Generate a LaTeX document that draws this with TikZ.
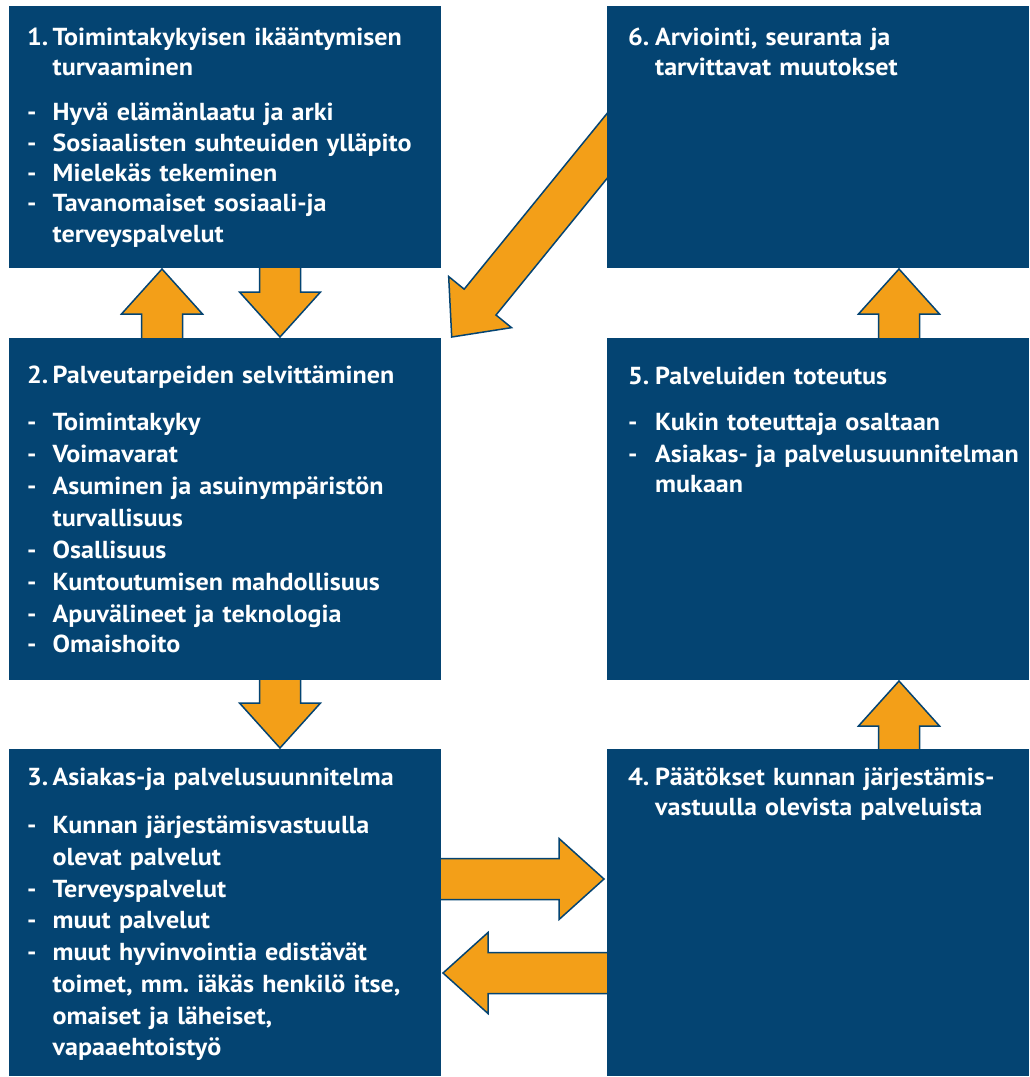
\documentclass[tikz,border=0pt]{standalone}
\usepackage{fontspec}
\setmainfont{PT Sans}[FakeStretch=1.06]
\usetikzlibrary{calc}
\definecolor{boxblue}{RGB}{4,68,114}
\definecolor{arrorange}{RGB}{243,159,24}
\newcommand\lbl[1]{\makebox[25.5pt][l]{#1}}
\newcommand\rlbl[1]{\makebox[27pt][l]{#1}}
\newcommand\firststrut{\rule{0pt}{22pt}}
\newcommand\blockarr[2]{%
  \coordinate (hb) at ($(#2)!45pt!(#1)$);
  \draw[blockarrow] ($(#1)!20.5pt!90:(#2)$) -- ($(hb)!20.5pt!-90:(#1)$)
    -- ($(hb)!40.5pt!-90:(#1)$) -- (#2) -- ($(hb)!40.5pt!90:(#1)$)
    -- ($(hb)!20.5pt!90:(#1)$) -- ($(#1)!20.5pt!-90:(#2)$) -- cycle;
}
\frenchspacing
\begin{document}
\begin{tikzpicture}[x=1pt,y=-1pt,
  stepbox/.style={fill=boxblue, draw=none, inner sep=0pt, outer sep=0pt, anchor=north west},
  boxtext/.style={text=white, anchor=north west, inner sep=0pt, align=left, text width=410pt,
    font=\bfseries\fontsize{24.6}{30.5}\selectfont\frenchspacing},
  blockarrow/.style={fill=arrorange, draw=boxblue, line width=1.5pt, line join=miter}
]
\useasboundingbox[fill=white] (0,0) rectangle (1029,1077);

% arrow end points
\coordinate (a1s) at (162,345);  \coordinate (a1t) at (162,269);
\coordinate (a2s) at (280,262);  \coordinate (a2t) at (280,337);
\coordinate (a3s) at (280,674);  \coordinate (a3t) at (280,748);
\coordinate (a4s) at (435,879);  \coordinate (a4t) at (604,879);
\coordinate (a5s) at (613,973);  \coordinate (a5t) at (443,973);
\coordinate (a6s) at (899,755);  \coordinate (a6t) at (899,681);
\coordinate (a7s) at (899,345);  \coordinate (a7t) at (899,269);
\coordinate (a8s) at (628.4,119.7); \coordinate (a8t) at (451.7,337);

\blockarr{a1s}{a1t}
\blockarr{a2s}{a2t}
\blockarr{a3s}{a3t}
\blockarr{a4s}{a4t}
\blockarr{a5s}{a5t}
\blockarr{a6s}{a6t}
\blockarr{a7s}{a7t}
\blockarr{a8s}{a8t}

% boxes
\node[stepbox, minimum width=432pt, minimum height=262pt] (b1) at (9,6) {};
\node[stepbox, minimum width=422pt, minimum height=262pt] (b6) at (607,6) {};
\node[stepbox, minimum width=432pt, minimum height=342pt] (b2) at (9,338) {};
\node[stepbox, minimum width=422pt, minimum height=342pt] (b5) at (607,338) {};
\node[stepbox, minimum width=432pt, minimum height=327pt] (b3) at (9,749) {};
\node[stepbox, minimum width=422pt, minimum height=327pt] (b4) at (607,749) {};

% texts
\node[boxtext] (t1) at (27,23) {\baselineskip=30.4pt
\firststrut\lbl{1.}Toimintakykyisen ikääntymisen\\
\lbl{}turvaaminen\\[14.6pt]
\lbl{-}Hyvä elämänlaatu ja arki\\
\lbl{-}Sosiaalisten suhteuiden ylläpito\\
\lbl{-}Mielekäs tekeminen\\
\lbl{-}Tavanomaiset sosiaali-ja\\
\lbl{}terveyspalvelut};

\node[boxtext] (t2) at (27,361.3) {\baselineskip=32pt
\firststrut\lbl{2.}Palveutarpeiden selvittäminen\\[14.7pt]
\lbl{-}Toimintakyky\\
\lbl{-}Voimavarat\\
\lbl{-}Asuminen ja asuinympäristön\\
\lbl{}turvallisuus\\
\lbl{-}Osallisuus\\
\lbl{-}Kuntoutumisen mahdollisuus\\
\lbl{-}Apuvälineet ja teknologia\\
\lbl{-}Omaishoito};

\node[boxtext] (t3) at (27,763) {\baselineskip=31.9pt
\firststrut\lbl{3.}Asiakas-ja palvelusuunnitelma\\[16.1pt]
\lbl{-}Kunnan järjestämisvastuulla\\
\lbl{}olevat palvelut\\
\lbl{-}Terveyspalvelut\\
\lbl{-}muut palvelut\\
\lbl{-}muut hyvinvointia edistävät\\
\lbl{}toimet, mm.\ iäkäs henkilö itse,\\
\lbl{}omaiset ja läheiset,\\
\lbl{}vapaaehtoistyö};

\node[boxtext] (t4) at (628,763) {\baselineskip=31pt
\firststrut\rlbl{4.}Päätökset kunnan järjestämis-\\
\rlbl{}vastuulla olevista palveluista};

\node[boxtext] (t5) at (628,362) {\baselineskip=32pt
\firststrut\rlbl{5.}Palveluiden toteutus\\[14pt]
\rlbl{-}Kukin toteuttaja osaltaan\\
\rlbl{-}Asiakas- ja palvelusuunnitelman\\
\rlbl{}mukaan};

\node[boxtext] (t6) at (628,23) {\baselineskip=31pt
\firststrut\rlbl{6.}Arviointi, seuranta ja\\
\rlbl{}tarvittavat muutokset};
\end{tikzpicture}
\end{document}
